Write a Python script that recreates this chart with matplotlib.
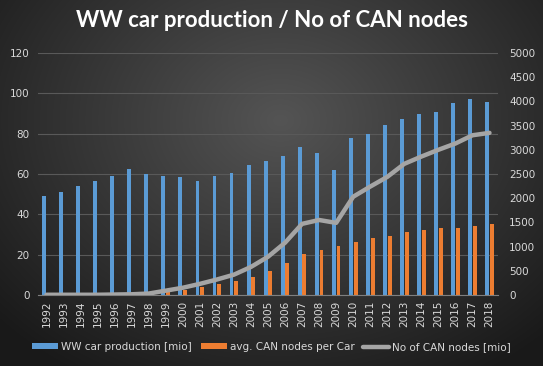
import matplotlib.pyplot as plt
import numpy as np

# data
years = [str(y) for y in range(1992, 2019)]
car_production = [49.2, 51, 54, 56.4, 59.2, 62.3, 60.2, 59.2, 58.5, 56.5, 59.2, 60.7, 64.5,
                  66.6, 69.1, 73.2, 70.4, 61.8, 77.7, 79.8, 84.3, 87.4, 89.7, 90.7, 95.2, 97.2, 95.8]
can_per_car = [0, 0, 0, 0, 0, 0, 0, 1.5, 2.5, 4, 5.5, 7, 9,
               12, 15.9, 20.3, 22.3, 24.3, 26.3, 28.2, 29.2, 31.2, 32.2, 33.2, 33.2, 34.2, 35.2]
can_nodes = [5, 5, 5, 5, 10, 15, 30, 90, 150, 230, 320, 420, 580,
             790, 1080, 1470, 1550, 1490, 2030, 2240, 2440, 2710, 2860, 3000, 3130, 3300, 3350]

text_col = '#d9d9d9'
grid_col = '#595959'

fig = plt.figure(figsize=(5.43, 3.66), dpi=100)

# radial gradient background
bg = fig.add_axes([0, 0, 1, 1], zorder=-10)
yy, xx = np.mgrid[0:366, 0:543]
r = np.sqrt(((xx - 280) / 330.0) ** 2 + ((yy - 120) / 260.0) ** 2)
shade = np.clip(0.33 - 0.2 * r, 0.1, 0.33)
bg.imshow(np.dstack([shade, shade, shade]), aspect='auto', extent=[0, 1, 0, 1])
bg.set_axis_off()

ax = fig.add_axes([38 / 543, 1 - 295 / 366, 460 / 543, 242 / 366])
ax.patch.set_alpha(0)
ax2 = ax.twinx()

x = np.arange(len(years))
w = 0.23
ax.bar(x - 0.14, car_production, w, color='#5b9bd5', label='WW car production [mio]', zorder=2)
ax.bar(x + 0.14, can_per_car, w, color='#ed7d31', label='avg. CAN nodes per Car', zorder=2)
ax2.plot(x, can_nodes, color='#a5a5a5', lw=3.2, label='No of CAN nodes [mio]', solid_capstyle='round')

ax.set_ylim(0, 120)
ax.set_yticks(range(0, 121, 20))
ax2.set_ylim(0, 5000)
ax2.set_yticks(range(0, 5001, 500))
ax.set_xlim(-0.5, len(years) - 0.5)
ax.set_xticks(x)
ax.set_xticklabels(years, rotation=90)

ax.grid(axis='y', color=grid_col, lw=0.8, zorder=0)
ax.set_axisbelow(True)
for a in (ax, ax2):
    for s in a.spines.values():
        s.set_visible(False)
    a.tick_params(length=0, colors=text_col, labelsize=7.5)
ax.spines['bottom'].set_visible(True)
ax.spines['bottom'].set_color('#7f7f7f')
ax.tick_params(axis='y', pad=6)
ax2.tick_params(axis='y', pad=8)
ax.tick_params(axis='x', pad=4)

fig.text(0.5, 0.945, 'WW car production / No of CAN nodes', ha='center', va='center',
         color='white', fontsize=16, fontweight='bold', family='Lato')

h1, l1 = ax.get_legend_handles_labels()
h2, l2 = ax2.get_legend_handles_labels()
leg = fig.legend(h1 + h2, l1 + l2, loc='center', bbox_to_anchor=(0.5, 0.052), ncol=3,
                 frameon=False, fontsize=7.5, handlelength=2.5, handleheight=0.45,
                 columnspacing=0.8, handletextpad=0.3)
for t in leg.get_texts():
    t.set_color(text_col)

fig.savefig('out.png', dpi=100)
